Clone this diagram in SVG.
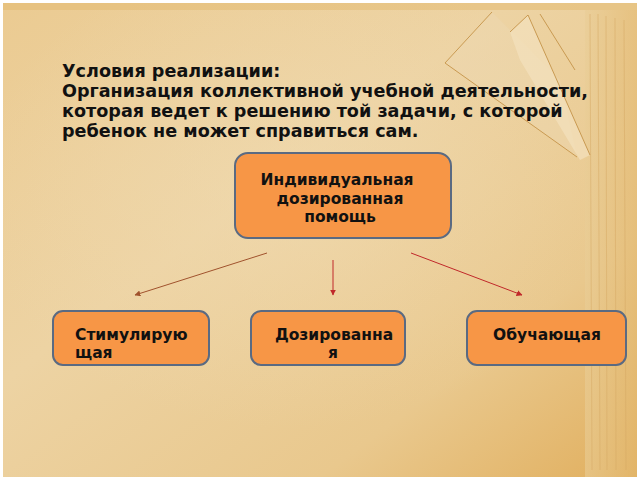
<svg xmlns="http://www.w3.org/2000/svg" width="640" height="480" viewBox="0 0 640 480">
<defs>
<linearGradient id="bg" x1="0" y1="0" x2="1" y2="1">
<stop offset="0" stop-color="#EBCB92"/>
<stop offset="0.4" stop-color="#EDD3A3"/>
<stop offset="0.75" stop-color="#E9C88D"/>
<stop offset="1" stop-color="#E1AF5E"/>
</linearGradient>
<radialGradient id="glow" cx="0.45" cy="0.4" r="0.5">
<stop offset="0" stop-color="#F0DAB0" stop-opacity="0.6"/>
<stop offset="1" stop-color="#F0DAB0" stop-opacity="0"/>
</radialGradient>
<linearGradient id="band" x1="0" y1="0" x2="1" y2="0">
<stop offset="0" stop-color="#E9CD96"/>
<stop offset="1" stop-color="#E3B86E"/>
</linearGradient>
<marker id="ahBrown" viewBox="0 0 10 10" refX="9" refY="5" markerWidth="6" markerHeight="6" orient="auto" markerUnits="userSpaceOnUse">
<path d="M0,0 L10,5 L0,10 z" fill="#A0522D"/>
</marker>
<marker id="ahRed" viewBox="0 0 10 10" refX="9" refY="5" markerWidth="6" markerHeight="6" orient="auto" markerUnits="userSpaceOnUse">
<path d="M0,0 L10,5 L0,10 z" fill="#C0282A"/>
</marker>
<style>
.box{fill:#F79646;stroke:#5A6A82;stroke-width:2}
.t{font-family:"DejaVu Sans","Liberation Sans",sans-serif;font-weight:bold;fill:#111}
.head{font-size:17.6px}
.lbl{font-size:15.5px}
.fold{fill:none;stroke:#C99A52;stroke-width:1}
</style>
</defs>
<rect x="0" y="0" width="640" height="480" fill="#FFFFFF"/>
<rect x="3" y="3" width="634" height="474" fill="url(#bg)"/>
<rect x="3" y="3" width="634" height="474" fill="url(#glow)"/>
<g id="background">
<rect x="585" y="10" width="52" height="467" fill="url(#band)" opacity="0.6"/>
<g stroke="#D6A863" stroke-width="0.8" opacity="0.6">
<line x1="590" y1="14" x2="592" y2="470"/>
<line x1="598" y1="14" x2="600" y2="470"/>
<line x1="606" y1="16" x2="607" y2="470"/>
<line x1="615" y1="18" x2="616" y2="470"/>
<line x1="624" y1="20" x2="626" y2="470"/>
</g>
<rect x="3" y="3" width="634" height="7" fill="#E2B565" opacity="0.4"/>
<polygon points="492,12 445,63 577,157 560,80" fill="#EED9B3" opacity="0.4"/>
<polyline class="fold" points="492,12 445,63 577,157"/>
<polygon points="510,32 528,15 590,155 580,160 520,60" fill="#F3E1BE" opacity="0.7"/>
<polyline class="fold" points="510,32 528,15 590,155"/>
<line class="fold" x1="540" y1="14" x2="575" y2="70"/>
</g>
<g id="title">
<text class="t head" x="62" y="77">Условия реализации:</text>
<text class="t head" x="62" y="97">Организация коллективной учебной деятельности,</text>
<text class="t head" x="62" y="117">которая ведет к решению той задачи, с которой</text>
<text class="t head" x="62" y="137">ребенок не может справиться сам.</text>
</g>
<g id="connectors">
<line x1="267" y1="253" x2="135" y2="295" stroke="#A0522D" stroke-width="1" marker-end="url(#ahBrown)"/>
<line x1="333" y1="260" x2="333" y2="295" stroke="#C0282A" stroke-width="1" marker-end="url(#ahRed)"/>
<line x1="411" y1="253" x2="522" y2="295" stroke="#C0282A" stroke-width="1" marker-end="url(#ahRed)"/>
</g>
<g id="node-top">
<rect class="box" x="235" y="153" width="216" height="85" rx="13"/>
<text class="t lbl" x="337" y="185" text-anchor="middle">Индивидуальная</text>
<text class="t lbl" x="340" y="204" text-anchor="middle">дозированная</text>
<text class="t lbl" x="340" y="222" text-anchor="middle">помощь</text>
</g>
<g id="node-stim">
<rect class="box" x="53" y="311" width="156" height="54" rx="10"/>
<text class="t lbl" x="75" y="340">Стимулирую</text>
<text class="t lbl" x="75" y="358">щая</text>
</g>
<g id="node-doz">
<rect class="box" x="251" y="311" width="154" height="54" rx="10"/>
<text class="t lbl" x="334" y="340" text-anchor="middle">Дозированна</text>
<text class="t lbl" x="333" y="358" text-anchor="middle">я</text>
</g>
<g id="node-obuch">
<rect class="box" x="467" y="311" width="159" height="54" rx="10"/>
<text class="t lbl" x="547" y="340" text-anchor="middle">Обучающая</text>
</g>
</svg>
